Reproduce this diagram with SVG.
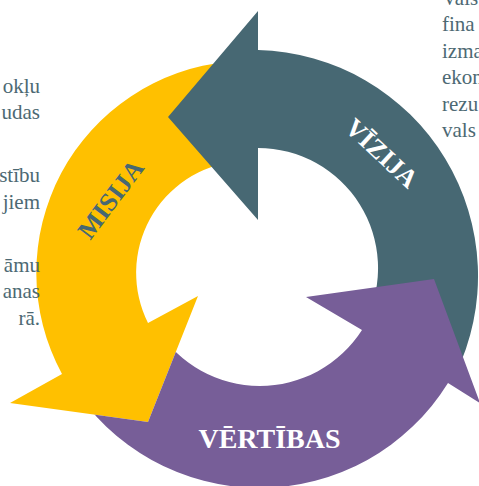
<svg xmlns="http://www.w3.org/2000/svg" width="479" height="486" viewBox="0 0 479 486">
  <defs>
    <style>
      .body { font-family: "Liberation Serif", "Times New Roman", serif; font-size: 21px; fill: #4d6973; }
      .label { font-family: "Liberation Serif", "Times New Roman", serif; font-weight: bold; }
      .yellow { fill: #ffc000; }
      .slate { fill: #476873; }
      .purple { fill: #775e98; }
    </style>
    <!-- keeps the purple tail underneath the yellow arrowhead -->
    <clipPath id="under-yellow-head">
      <path clip-rule="evenodd" d="M0 0H479V486H0Z M198 296 L10 403 L148 422 Z"/>
    </clipPath>
  </defs>

  <rect width="479" height="486" fill="#ffffff"/>

  <!-- cycle arrows, each flowing counter-clockwise into the next -->
  <g id="connectors">
    <g id="misija">
      <path class="yellow" d="M228.5 61.8 A212 212 0 0 0 62 374 L10 403 L148 422 L198 296 L148 323 A112 112 0 0 1 237.2 161.4 Z"/>
      <text class="label" font-size="26" fill="#476873" text-anchor="middle" y="8.6" transform="translate(110.8 199.2) rotate(-52.8)">MISIJA</text>
    </g>
    <g id="vizija">
      <path class="slate" d="M258 50 A226 226 0 0 1 455.1 375.1 L365.9 320.6 A120 120 0 0 0 258 148 L258 220 L168 117 L258 11 Z"/>
      <text class="label" font-size="26" fill="#ffffff" text-anchor="middle" y="8.6" transform="translate(381.7 153.3) rotate(43)">VĪZIJA</text>
    </g>
    <g id="vertibas">
      <path class="purple" clip-path="url(#under-yellow-head)" d="M448 383 A222 222 0 0 1 70.9 383.2 L157.4 329.1 A121 121 0 0 0 362 330 L306 297 L434 279 L480 403 Z"/>
      <text class="label" font-size="28" fill="#ffffff" text-anchor="middle" x="269.5" y="448">VĒRTĪBAS</text>
    </g>
  </g>

  <!-- surrounding paragraph text, cut at the page edges -->
  <g id="side-text-left" class="body" text-anchor="end">
    <text x="40" y="93">okļu</text>
    <text x="40" y="119">udas</text>
    <text x="40" y="182">stību</text>
    <text x="40" y="209">jiem</text>
    <text x="40" y="272">āmu</text>
    <text x="40" y="298">anas</text>
    <text x="40" y="325">rā.</text>
  </g>
  <g id="side-text-right" class="body">
    <text x="442" y="5">Vals</text>
    <text x="442" y="31.4">fina</text>
    <text x="442" y="57.8">izma</text>
    <text x="442" y="84.2">ekon</text>
    <text x="442" y="110.6">rezu</text>
    <text x="442" y="137">vals</text>
  </g>
</svg>
